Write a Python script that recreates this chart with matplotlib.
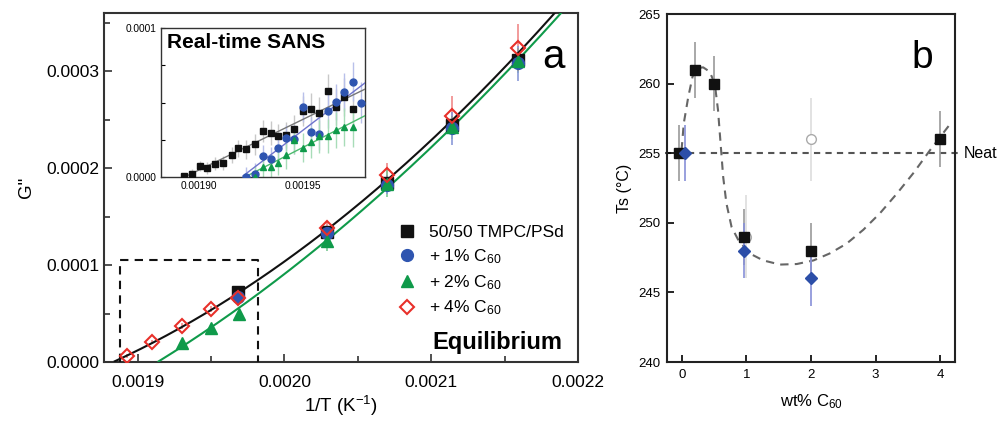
import numpy as np
import matplotlib
matplotlib.use("Agg")
import matplotlib.pyplot as plt
from matplotlib.lines import Line2D
from matplotlib.ticker import FormatStrFormatter, MultipleLocator

plt.rcParams['font.family'] = ['Liberation Sans', 'DejaVu Sans']
plt.rcParams['mathtext.fontset'] = 'custom'
plt.rcParams['mathtext.rm'] = 'Liberation Sans'
plt.rcParams['mathtext.it'] = 'Liberation Sans:italic'

# ---- panel a: equilibrium G'' vs 1/T (units of 1e-4 for G'')
x_neat = [0.001968, 0.002029, 0.00207, 0.002114, 0.002159]
g_neat = [0.72, 1.34, 1.85, 2.44, 3.12]
e_neat = [0.03, 0.05, 0.08, 0.10, 0.12]

x_c1 = [0.001968, 0.002029, 0.00207, 0.002114, 0.002159]
g_c1 = [0.67, 1.33, 1.83, 2.41, 3.08]
e_c1 = [0.04, 0.06, 0.10, 0.17, 0.18]

x_c2 = [0.00193, 0.00195, 0.001969, 0.002029, 0.00207, 0.002114, 0.002159]
g_c2 = [0.20, 0.35, 0.50, 1.25, 1.84, 2.42, 3.10]
e_c2 = [0.03, 0.04, 0.05, 0.10, 0.14, 0.12, 0.12]

x_c4 = [0.001893, 0.00191, 0.00193, 0.00195, 0.001968, 0.002029, 0.00207, 0.002114, 0.002159]
g_c4 = [0.06, 0.21, 0.37, 0.55, 0.66, 1.38, 1.93, 2.54, 3.24]
e_c4 = [0.02, 0.02, 0.03, 0.03, 0.04, 0.07, 0.12, 0.20, 0.25]

# inset: real-time SANS (units of 1e-4)
xs_neat = [0.001893, 0.001897, 0.0019007, 0.001904, 0.001908, 0.001912, 0.001916,
           0.001919, 0.001923, 0.001927, 0.001931, 0.001935, 0.001938, 0.001942,
           0.001946, 0.00195, 0.001954, 0.001958, 0.001962, 0.001966, 0.00197, 0.001974]
gs_neat = [0.005, 0.023, 0.072, 0.059, 0.09, 0.094, 0.148, 0.193, 0.185, 0.22, 0.308,
           0.297, 0.274, 0.281, 0.319, 0.443, 0.458, 0.427, 0.577, 0.472, 0.535, 0.456]
xs_c1 = [0.001923, 0.001927, 0.001931, 0.001935, 0.001938, 0.001942, 0.001946, 0.00195,
         0.001954, 0.001958, 0.001962, 0.001966, 0.00197, 0.001974, 0.001978]
gs_c1 = [0.003, 0.023, 0.142, 0.119, 0.198, 0.263, 0.252, 0.468, 0.299, 0.292, 0.445,
         0.505, 0.573, 0.64, 0.499]
xs_c2 = [0.001927, 0.001931, 0.001935, 0.001938, 0.001942, 0.001946, 0.00195, 0.001954,
         0.001958, 0.001962, 0.001966, 0.00197, 0.001974]
gs_c2 = [0.003, 0.067, 0.067, 0.097, 0.146, 0.247, 0.198, 0.232, 0.274, 0.274, 0.315,
         0.337, 0.333]

# ---- panel b: Ts vs wt% C60
wt_sq = [-0.05, 0.2, 0.5, 0.96, 2.0, 4.0]
ts_sq = [255, 261, 260, 249, 248, 256]
wt_di = [0.05, 0.96, 2.0]
ts_di = [255, 248, 246]
wt_ci = [1.0, 2.0]
ts_ci = [249, 256]
# guide-to-the-eye dashed curve
guide_wt = [-0.005, 0.03, 0.1, 0.166, 0.23, 0.33, 0.43, 0.51, 0.56, 0.6, 0.64, 0.69,
            0.77, 0.87, 1.05, 1.26, 1.52, 1.78, 2.04, 2.29, 2.55, 2.81, 3.07, 3.33,
            3.59, 3.84, 4.13]
guide_ts = [255.2, 257.15, 259.06, 260.5, 261.1, 261.17, 260.86, 260.0, 258.1, 255.7,
            253.3, 251.4, 249.7, 248.8, 247.8, 247.3, 247.0, 247.04, 247.3, 247.8,
            248.5, 249.5, 250.7, 252.1, 253.6, 255.2, 256.95]

BLACK = '#111111'
BLUE = '#2f55b0'
GREEN = '#0f9a4a'
RED = '#e8302a'

fig = plt.figure(figsize=(9.97, 4.25), dpi=100)
ax = fig.add_axes([0.1043, 0.1482, 0.4754, 0.8212])

sc = 1e-4
for xx, yy, ee, c in [(x_c4, g_c4, e_c4, '#f08a8a'), (x_c2, g_c2, e_c2, '#7cc895'),
                      (x_c1, g_c1, e_c1, '#8a9ad8'), (x_neat, g_neat, e_neat, '#999999')]:
    ax.errorbar(xx, np.array(yy) * sc, yerr=np.array(ee) * sc, fmt='none',
                ecolor=c, elinewidth=1.2, zorder=2)

# fitted curves (quadratic)
xb = np.array(x_neat + x_c4)
yb = np.array(g_neat + g_c4)
pb = np.polyfit(xb, yb, 2)
xf = np.linspace(0.00187, 0.0022, 300)
yf = np.polyval(pb, xf)
ax.plot(xf[yf >= 0], yf[yf >= 0] * sc, color=BLACK, lw=1.5, zorder=3)
pg = np.polyfit(x_c2, g_c2, 2)
yg = np.polyval(pg, xf)
ax.plot(xf[yg >= 0], yg[yg >= 0] * sc, color=GREEN, lw=1.5, zorder=3)

ax.plot(x_neat, np.array(g_neat) * sc, 's', color=BLACK, ms=9, zorder=4)
ax.plot(x_c1, np.array(g_c1) * sc, 'o', color=BLUE, ms=8.5, zorder=5)
ax.plot(x_c2, np.array(g_c2) * sc, '^', color=GREEN, ms=9, zorder=5)
ax.plot(x_c4, np.array(g_c4) * sc, 'D', mfc='none', mec=RED, mew=1.5, ms=7, zorder=6)

# dashed box showing inset range
box_x0, box_x1, box_top = 0.001888, 0.001982, 0.000105
ax.plot([box_x0, box_x0, box_x1, box_x1], [0, box_top, box_top, 0], '--',
        color=BLACK, lw=1.5, dashes=(4, 3), zorder=3)

ax.set_xlim(0.001877, 0.0022)
ax.set_ylim(0, 0.00036)
ax.set_xticks([0.0019, 0.0020, 0.0021, 0.0022])
ax.xaxis.set_minor_locator(MultipleLocator(0.00005))
ax.set_yticks([0, 0.0001, 0.0002, 0.0003])
ax.yaxis.set_minor_locator(MultipleLocator(0.00005))
ax.xaxis.set_major_formatter(FormatStrFormatter('%.4f'))
ax.yaxis.set_major_formatter(FormatStrFormatter('%.4f'))
ax.tick_params(which='both', direction='in', labelsize=12.5, width=1.2, color='#333333')
ax.tick_params(which='major', length=6)
ax.tick_params(which='minor', length=4)
ax.tick_params(axis='x', pad=9)
for s in ax.spines.values():
    s.set_linewidth(1.5)
    s.set_color('#333333')
ax.set_xlabel('1/T (K$^{-1}$)', fontsize=13.5, labelpad=3)
ax.set_ylabel('G"', fontsize=13.5, labelpad=8)

handles = [Line2D([], [], ls='none', marker='s', color=BLACK, ms=9),
           Line2D([], [], ls='none', marker='o', color=BLUE, ms=8.5),
           Line2D([], [], ls='none', marker='^', color=GREEN, ms=9),
           Line2D([], [], ls='none', marker='D', mfc='none', mec=RED, mew=1.5, ms=7)]
labels = ['50/50 TMPC/PSd', '+ 1% C$_{60}$', '+ 2% C$_{60}$', '+ 4% C$_{60}$']
ax.legend(handles, labels, loc='upper left', bbox_to_anchor=(0.62, 0.392),
          frameon=False, fontsize=12.5, handlelength=1.0, handletextpad=0.8,
          labelspacing=0.4, borderpad=0, borderaxespad=0)
ax.text(0.968, 0.057, 'Equilibrium', transform=ax.transAxes, ha='right', va='center',
        fontsize=17, fontweight='bold')
ax.text(0.949, 0.842, 'a', transform=ax.transAxes, ha='center', va='baseline', fontsize=29)

# inset
ins = fig.add_axes([0.1615, 0.5835, 0.2046, 0.3506])
ins.plot(xs_neat, np.array(gs_neat) * sc, 's', color=BLACK, ms=5, zorder=4)
ins.plot(xs_c1, np.array(gs_c1) * sc, 'o', color=BLUE, ms=5, zorder=4)
ins.plot(xs_c2, np.array(gs_c2) * sc, '^', color=GREEN, ms=5, zorder=4)
for xx, yy, c in [(xs_neat, gs_neat, '#c8c8c8'), (xs_c1, gs_c1, '#b8c0ea'), (xs_c2, gs_c2, '#a8dcb8')]:
    err = 0.02 + 0.12 * (np.array(xx) - 0.00189) / 0.00009
    ins.errorbar(xx, np.array(yy) * sc, yerr=err * sc, fmt='none', ecolor=c,
                 elinewidth=1, zorder=2)
xi = np.linspace(0.00188, 0.00198, 100)
for xx, yy, c in [(xs_neat, gs_neat, '#777777'), (xs_c1, gs_c1, '#6f74cc'), (xs_c2, gs_c2, '#4dbb6e')]:
    p = np.polyfit(xx, yy, 1)
    yl = np.polyval(p, xi)
    ins.plot(xi[yl >= 0], yl[yl >= 0] * sc, color=c, lw=1, zorder=3)
ins.set_xlim(0.001882, 0.00198)
ins.set_ylim(0, 0.0001)
ins.set_xticks([0.00190, 0.00195])
ins.set_yticks([0, 0.0001])
ins.yaxis.set_minor_locator(MultipleLocator(0.000025))
ins.xaxis.set_major_formatter(FormatStrFormatter('%.5f'))
ins.yaxis.set_major_formatter(FormatStrFormatter('%.4f'))
ins.tick_params(which='both', direction='in', labelsize=7.3, length=3, width=0.8, pad=3)
ins.tick_params(axis='x', length=0)
for s in ins.spines.values():
    s.set_linewidth(1)
    s.set_color('#333333')
ins.text(0.03, 0.9, 'Real-time SANS', transform=ins.transAxes, ha='left', va='center',
         fontsize=15, fontweight='bold')

# ---- panel b
bx = fig.add_axes([0.669, 0.1482, 0.2889, 0.8188])
bx.plot([-0.26, 4.32], [255, 255], '--', color='#555555', lw=1.5, dashes=(3, 2.5),
        clip_on=False, zorder=1)
bx.plot(guide_wt, guide_ts, '--', color='#666666', lw=1.5, dashes=(4, 3), zorder=2)
bx.errorbar(wt_ci, ts_ci, yerr=3, fmt='none', ecolor='#dddddd', elinewidth=1.2, zorder=2)
bx.errorbar(wt_sq, ts_sq, yerr=2, fmt='none', ecolor='#999999', elinewidth=1.2, zorder=2)
bx.errorbar(wt_di, ts_di, yerr=2, fmt='none', ecolor='#8890d8', elinewidth=1.2, zorder=2)
bx.plot(wt_ci, ts_ci, 'o', mfc='white', mec='#aaaaaa', mew=1, ms=7, zorder=3)
bx.plot(wt_sq, ts_sq, 's', color=BLACK, ms=6.5, zorder=4)
bx.plot(wt_di, ts_di, 'D', color='#2c4ea8', ms=6.5, zorder=5)
bx.text(4.36, 255, 'Neat', ha='left', va='center', fontsize=11.5)
bx.text(0.887, 0.845, 'b', transform=bx.transAxes, ha='center', va='baseline', fontsize=28)
bx.set_xlim(-0.23, 4.23)
bx.set_ylim(240, 265)
bx.set_xticks([0, 1, 2, 3, 4])
bx.set_yticks([240, 245, 250, 255, 260, 265])
bx.tick_params(which='both', direction='in', labelsize=9.5, length=5, width=1.2, pad=5)
for s in bx.spines.values():
    s.set_linewidth(1.5)
    s.set_color('#222222')
bx.set_xlabel('wt% C$_{60}$', fontsize=12, labelpad=8)
bx.set_ylabel('Ts (\u00b0C)', fontsize=11.5, labelpad=4)

fig.savefig('out.png', dpi=100)
